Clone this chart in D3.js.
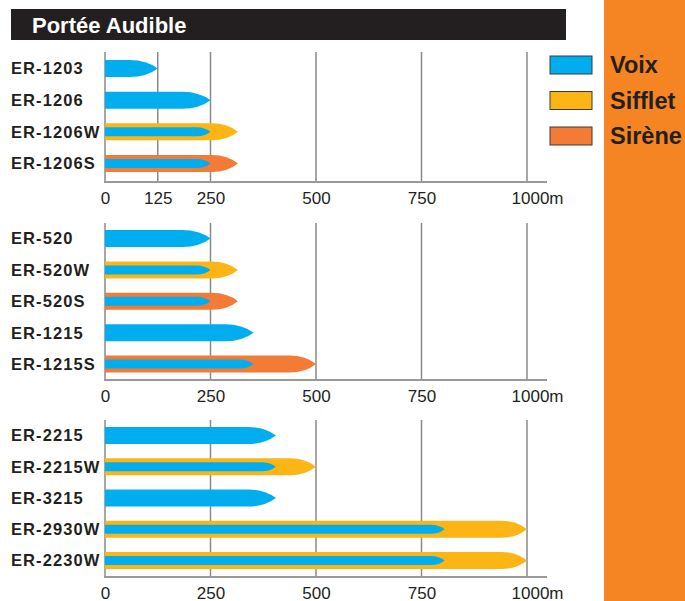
<!DOCTYPE html>
<html>
<head>
<meta charset="utf-8">
<script src="https://cdn.jsdelivr.net/npm/d3@7"></script>
<style>
  body { margin: 0; background: #fff; }
  svg { display: block; font-family: "Liberation Sans", Arial, sans-serif; }
</style>
</head>
<body>
<div id="chart"></div>
<script>
const width = 685;
const height = 601;

// données
const models1 = ["ER-1203", "ER-1206", "ER-1206W", "ER-1206S"];
const voice1 = [125, 250, 250, 250];
const whistle1 = [0, 0, 315, 0];
const siren1 = [0, 0, 0, 315];
const ticks1 = [0, 125, 250, 500, 750, 1000];

const models2 = ["ER-520", "ER-520W", "ER-520S", "ER-1215", "ER-1215S"];
const voice2 = [250, 250, 250, 352, 352];
const whistle2 = [0, 315, 0, 0, 0];
const siren2 = [0, 0, 315, 0, 500];
const ticks2 = [0, 250, 500, 750, 1000];

const models3 = ["ER-2215", "ER-2215W", "ER-3215", "ER-2930W", "ER-2230W"];
const voice3 = [405, 405, 405, 805, 805];
const whistle3 = [0, 500, 0, 1000, 1000];
const siren3 = [0, 0, 0, 0, 0];
const ticks3 = [0, 250, 500, 750, 1000];

const legendLabels = ["Voix", "Sifflet", "Sirène"];

const colors = { voice: "#00aeef", whistle: "#fdb515", siren: "#f47b36" };
const legendColors = [colors.voice, colors.whistle, colors.siren];

const panels = [
  { models: models1, voice: voice1, whistle: whistle1, siren: siren1, ticks: ticks1, top: 52, axisY: 182, first: 68.5, last: 163.5 },
  { models: models2, voice: voice2, whistle: whistle2, siren: siren2, ticks: ticks2, top: 223, axisY: 380, first: 238.5, last: 364 },
  { models: models3, voice: voice3, whistle: whistle3, siren: siren3, ticks: ticks3, top: 420, axisY: 577, first: 435.5, last: 560.5 }
];

const svg = d3.select("#chart")
  .append("svg")
  .attr("width", width)
  .attr("height", height);

// bande orange à droite
svg.append("rect")
  .attr("x", 604).attr("y", 0)
  .attr("width", width - 604).attr("height", height)
  .attr("fill", "#f58522");

// titre
svg.append("rect")
  .attr("x", 11).attr("y", 9)
  .attr("width", 555).attr("height", 31)
  .attr("fill", "#231f20");
svg.append("text")
  .attr("x", 32).attr("y", 33)
  .attr("fill", "#fff")
  .attr("font-size", 22)
  .attr("font-weight", "bold")
  .text("Portée Audible");

const x = d3.scaleLinear().domain([0, 1000]).range([105, 527]);

// forme "obus": rectangle puis pointe arrondie
function bullet(x0, x1, cy, h, tip) {
  const top = cy - h / 2, bot = cy + h / 2;
  const t = Math.min(tip, x1 - x0);
  const xs = x1 - t;
  return `M${x0},${top}H${xs}Q${x1 - t * 0.4},${top} ${x1},${cy}` +
    `Q${x1 - t * 0.4},${bot} ${xs},${bot}H${x0}Z`;
}

panels.forEach(p => {
  const g = svg.append("g");
  const y = d3.scalePoint().domain(p.models).range([p.first, p.last]);

  // grille
  g.selectAll("line.grid")
    .data(p.ticks)
    .enter()
    .append("line")
    .attr("x1", d => x(d)).attr("x2", d => x(d))
    .attr("y1", p.top).attr("y2", p.axisY)
    .attr("stroke", "#8a8a8a")
    .attr("stroke-width", 1.5);

  // axe
  g.append("line")
    .attr("x1", x(0) - 1).attr("x2", 547)
    .attr("y1", p.axisY).attr("y2", p.axisY)
    .attr("stroke", "#999")
    .attr("stroke-width", 2);

  const axis = g.append("g")
    .attr("transform", `translate(0,${p.axisY})`)
    .call(d3.axisBottom(x).tickValues(p.ticks).tickSize(0).tickPadding(10)
      .tickFormat(d => d === 1000 ? "1000m" : d));
  axis.select(".domain").remove();
  axis.selectAll("text")
    .attr("font-size", 17)
    .attr("font-family", "Liberation Sans, Arial, sans-serif")
    .attr("fill", "#231f20")
    .attr("dx", d => d === 1000 ? 10 : 0);

  const rows = p.models.map((m, i) => ({
    model: m, voice: p.voice[i], whistle: p.whistle[i], siren: p.siren[i]
  }));

  // barres
  rows.forEach(r => {
    const cy = y(r.model);
    const outer = r.whistle || r.siren;
    if (outer) {
      g.append("path")
        .attr("d", bullet(x(0), x(outer), cy, 17, 26))
        .attr("fill", r.whistle ? colors.whistle : colors.siren);
      g.append("path")
        .attr("d", bullet(x(0), x(r.voice), cy, 9, 14))
        .attr("fill", colors.voice);
    } else {
      g.append("path")
        .attr("d", bullet(x(0), x(r.voice), cy, 17, 28))
        .attr("fill", colors.voice);
    }
  });

  // étiquettes
  g.selectAll("text.label")
    .data(rows)
    .enter()
    .append("text")
    .attr("class", "label")
    .attr("x", 11)
    .attr("y", d => y(d.model))
    .attr("dy", "0.36em")
    .attr("font-size", 16.5)
    .attr("font-weight", "bold")
    .attr("letter-spacing", 1.1)
    .attr("fill", "#231f20")
    .text(d => d.model);
});

// légende
const legend = svg.append("g");
legendLabels.forEach((lab, i) => {
  const ly = 56 + i * 35.5;
  legend.append("rect")
    .attr("x", 550).attr("y", ly)
    .attr("width", 42).attr("height", 18)
    .attr("fill", legendColors[i])
    .attr("stroke", "#3a3a3a")
    .attr("stroke-width", 1);
  legend.append("text")
    .attr("x", 610).attr("y", ly + 17)
    .attr("font-size", 23.5)
    .attr("font-weight", "bold")
    .attr("fill", "#231f20")
    .text(lab);
});
</script>
</body>
</html>
